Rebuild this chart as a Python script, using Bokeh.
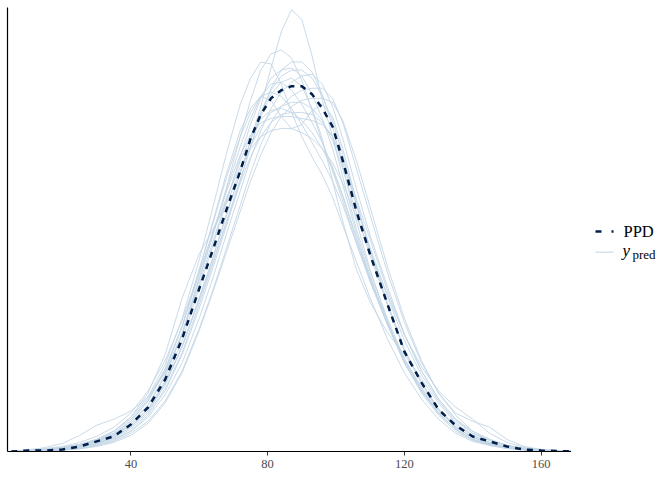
from bokeh.plotting import figure
from bokeh.layouts import row
from bokeh.models import Range1d, FixedTicker
from bokeh.core.properties import value
from bokeh.embed import file_html
from bokeh.resources import INLINE

# density grid (x) and densities (x 1000)
x_grid = [5, 10, 15, 20, 25, 30, 35, 40, 45, 50,
          55, 60, 64, 68, 72, 75, 78, 81, 84, 87,
          90, 93, 96, 99, 102, 106, 110, 115, 120, 125,
          130, 135, 140, 145, 150, 155, 160, 165, 170]

ppd = [0.0, 0.05, 0.05, 0.1, 0.25, 0.5, 0.75, 1.34, 2.18, 3.56,
       5.59, 8.07, 10.0, 12.0, 13.9, 15.5, 16.7, 17.5, 17.9, 18.1,
       18.1, 17.7, 17.0, 16.1, 14.4, 11.9, 9.75, 7.33, 4.95, 3.42,
       2.08, 1.29, 0.74, 0.5, 0.25, 0.1, 0.05, 0.02, 0.0]

ypred_01 = [0, 0.05, 0.05, 0.1, 0.2, 0.4, 0.7, 1.2, 2.0, 3.3, 5.2, 7.6, 9.6, 11.8, 13.8, 15.4, 17.1, 19.0, 20.8, 21.9, 21.4, 19.6, 17.4, 15.6, 13.6, 11.0, 8.9, 6.6, 4.6, 3.1, 1.9, 1.1, 0.6, 0.35, 0.2, 0.1, 0.05, 0.02, 0]
ypred_02 = [0, 0.05, 0.1, 0.15, 0.3, 0.5, 0.8, 1.4, 2.3, 3.7, 5.8, 8.5, 10.7, 13.1, 15.6, 17.4, 18.9, 19.7, 19.9, 19.5, 18.4, 16.9, 15.3, 13.9, 12.4, 10.3, 8.4, 6.3, 4.4, 3.0, 1.9, 1.1, 0.6, 0.35, 0.2, 0.1, 0.05, 0.02, 0]
ypred_03 = [0, 0.05, 0.1, 0.2, 0.35, 0.6, 1.0, 1.7, 2.7, 4.3, 6.6, 9.5, 12.1, 14.8, 17.2, 18.5, 19.3, 19.2, 18.2, 16.8, 15.6, 14.6, 13.7, 12.6, 11.2, 9.4, 7.6, 5.6, 3.9, 2.6, 1.6, 0.9, 0.5, 0.3, 0.15, 0.08, 0.04, 0.02, 0]
ypred_04 = [0, 0.02, 0.05, 0.08, 0.15, 0.3, 0.55, 1.0, 1.7, 2.8, 4.4, 6.6, 8.6, 10.8, 12.9, 14.5, 15.9, 17.0, 17.8, 18.3, 18.6, 18.7, 18.2, 17.1, 15.5, 13.0, 10.7, 8.2, 5.8, 4.0, 2.6, 1.6, 0.9, 0.55, 0.3, 0.15, 0.07, 0.03, 0]
ypred_05 = [0, 0.03, 0.06, 0.1, 0.2, 0.4, 0.7, 1.2, 2.0, 3.3, 5.2, 7.6, 9.6, 11.7, 13.8, 15.4, 16.8, 17.9, 18.6, 18.9, 18.9, 18.5, 17.6, 16.4, 14.7, 12.2, 9.9, 7.3, 5.0, 3.4, 2.1, 1.2, 0.7, 0.4, 0.2, 0.1, 0.05, 0.02, 0]
ypred_06 = [0, 0.05, 0.08, 0.15, 0.3, 0.55, 0.9, 1.5, 2.5, 4.0, 6.2, 9.0, 11.4, 13.8, 15.9, 17.0, 17.6, 17.4, 16.6, 16.0, 16.2, 16.9, 17.2, 16.6, 15.0, 12.4, 10.0, 7.4, 5.1, 3.4, 2.1, 1.2, 0.7, 0.4, 0.2, 0.1, 0.05, 0.02, 0]
ypred_07 = [0, 0.05, 0.1, 0.2, 0.35, 0.6, 1.0, 1.6, 2.6, 4.1, 6.2, 8.8, 10.9, 12.9, 14.7, 15.7, 16.3, 16.5, 16.6, 16.6, 16.5, 16.4, 16.2, 15.6, 14.3, 12.2, 10.1, 7.7, 5.5, 3.8, 2.5, 1.5, 0.9, 0.55, 0.3, 0.15, 0.07, 0.03, 0]
ypred_08 = [0, 0.04, 0.08, 0.15, 0.3, 0.5, 0.85, 1.4, 2.3, 3.8, 5.9, 8.6, 10.8, 13.0, 15.1, 16.5, 17.6, 18.2, 18.3, 17.9, 17.2, 16.3, 15.3, 14.1, 12.7, 10.6, 8.6, 6.4, 4.5, 3.1, 2.0, 1.2, 0.7, 0.4, 0.2, 0.1, 0.05, 0.02, 0]
ypred_09 = [0, 0.05, 0.1, 0.2, 0.35, 0.6, 1.0, 1.7, 2.9, 4.8, 7.6, 9.8, 11.0, 12.3, 13.9, 15.1, 16.1, 16.8, 17.1, 17.3, 17.3, 17.0, 16.4, 15.4, 14.0, 11.8, 9.7, 7.3, 5.0, 3.4, 2.1, 1.2, 0.7, 0.4, 0.2, 0.1, 0.05, 0.02, 0]
ypred_10 = [0, 0.03, 0.06, 0.12, 0.25, 0.45, 0.75, 1.3, 2.1, 3.5, 5.5, 8.1, 10.2, 12.4, 14.6, 16.2, 17.5, 18.5, 18.9, 19.0, 18.6, 17.7, 16.5, 15.0, 13.2, 10.8, 8.7, 6.4, 4.4, 3.0, 1.9, 1.1, 0.6, 0.35, 0.2, 0.1, 0.04, 0.02, 0]
ypred_11 = [0, 0.08, 0.15, 0.25, 0.45, 0.75, 1.2, 1.9, 3.0, 4.5, 6.5, 8.9, 10.8, 12.6, 14.1, 15.0, 15.6, 15.9, 16.0, 16.0, 15.8, 15.5, 15.0, 14.3, 13.3, 11.6, 9.9, 7.8, 5.8, 4.2, 3.0, 2.2, 1.6, 0.9, 0.45, 0.2, 0.1, 0.04, 0]
ypred_12 = [0, 0.02, 0.04, 0.08, 0.15, 0.3, 0.5, 0.9, 1.5, 2.5, 4.0, 6.1, 8.0, 10.1, 12.2, 13.8, 15.2, 16.3, 17.1, 17.6, 17.9, 18.0, 18.0, 17.5, 16.3, 14.0, 11.7, 8.9, 6.4, 4.4, 2.9, 1.8, 1.0, 0.6, 0.3, 0.15, 0.07, 0.03, 0]
ypred_13 = [0, 0.08, 0.2, 0.4, 0.8, 1.3, 1.6, 2.0, 2.7, 3.9, 5.8, 8.3, 10.4, 12.5, 14.4, 15.6, 16.5, 16.9, 17.0, 16.8, 16.4, 15.8, 15.0, 14.0, 12.6, 10.5, 8.5, 6.3, 4.4, 3.0, 1.9, 1.1, 0.6, 0.35, 0.2, 0.1, 0.05, 0.02, 0]
ypred_14 = [0, 0.03, 0.06, 0.1, 0.2, 0.4, 0.65, 1.1, 1.9, 3.1, 4.9, 7.3, 9.3, 11.4, 13.5, 15.1, 16.6, 17.7, 18.3, 18.5, 18.1, 17.0, 15.5, 13.4, 11.4, 9.0, 7.4, 5.9, 4.8, 3.6, 2.4, 1.4, 0.8, 0.45, 0.2, 0.1, 0.05, 0.02, 0]
ypred_15 = [0, 0.04, 0.08, 0.15, 0.28, 0.5, 0.8, 1.3, 2.1, 3.4, 5.2, 7.5, 9.4, 11.4, 13.3, 14.6, 15.6, 16.3, 16.7, 16.8, 16.8, 16.7, 16.3, 15.6, 14.5, 12.5, 10.5, 8.0, 5.8, 4.0, 2.6, 1.6, 1.0, 0.6, 0.3, 0.15, 0.07, 0.03, 0]
ypred_16 = [0, 0.05, 0.1, 0.18, 0.32, 0.55, 0.9, 1.5, 2.5, 4.0, 6.2, 9.0, 11.3, 13.6, 15.6, 16.8, 17.6, 17.8, 17.6, 17.0, 16.2, 15.3, 14.4, 13.4, 12.2, 10.3, 8.5, 6.4, 4.6, 3.2, 2.1, 1.3, 0.8, 0.45, 0.25, 0.12, 0.06, 0.02, 0]
ypred_17 = [0, 0.02, 0.04, 0.07, 0.13, 0.25, 0.45, 0.8, 1.4, 2.4, 3.9, 6.0, 7.9, 9.9, 11.9, 13.4, 14.7, 15.8, 16.6, 17.1, 17.4, 17.5, 17.5, 17.3, 16.4, 14.4, 12.1, 9.2, 6.6, 4.5, 2.9, 1.9, 1.5, 1.2, 0.6, 0.25, 0.1, 0.04, 0]
ypred_18 = [0, 0.03, 0.05, 0.1, 0.2, 0.35, 0.6, 1.0, 1.8, 3.0, 4.8, 7.1, 9.1, 11.2, 13.4, 15.1, 16.7, 18.0, 18.9, 19.3, 19.3, 18.8, 17.7, 16.1, 14.1, 11.4, 9.0, 6.5, 4.4, 2.9, 1.8, 1.0, 0.55, 0.3, 0.15, 0.07, 0.03, 0.01, 0]

x_ticks = [40, 80, 120, 160]
legend_labels = ["PPD", "y", "pred"]

ypred_all = [ypred_01, ypred_02, ypred_03, ypred_04, ypred_05, ypred_06,
             ypred_07, ypred_08, ypred_09, ypred_10, ypred_11, ypred_12,
             ypred_13, ypred_14, ypred_15, ypred_16, ypred_17, ypred_18]

LIGHT = "#c3d6e6"
DARK = "#011f4b"
SERIF = "Liberation Serif"

H = 470
p = figure(width=571, height=H, output_backend="svg", toolbar_location=None,
           x_range=Range1d(3.9, 168.9), y_range=Range1d(0, 22.0),
           min_border_left=7, min_border_right=0, min_border_top=7,
           min_border_bottom=0)
p.outline_line_color = None
p.grid.visible = False
p.background_fill_color = "white"
p.border_fill_color = "white"

p.multi_line([x_grid] * len(ypred_all), ypred_all, line_color=LIGHT,
             line_width=1, line_alpha=0.9)
p.line(x_grid, ppd, line_color=DARK, line_width=2.5, line_dash="6 6")

p.xaxis.ticker = FixedTicker(ticks=x_ticks)
p.xaxis.minor_tick_line_color = None
p.xaxis.major_tick_in = 0
p.xaxis.major_tick_out = 4
p.xaxis.major_tick_line_color = "#333333"
p.xaxis.axis_line_color = "black"
p.xaxis.axis_line_width = 1.2
p.xaxis.major_label_text_font = SERIF
p.xaxis.major_label_text_font_size = "12.5px"
p.xaxis.major_label_text_color = "#4d4d4d"
p.xaxis.major_label_standoff = 4

p.yaxis.ticker = FixedTicker(ticks=[])
p.yaxis.minor_tick_line_color = None
p.yaxis.major_tick_line_color = None
p.yaxis.major_tick_in = 0
p.yaxis.major_tick_out = 0
p.yaxis.major_label_standoff = 0
p.yaxis.axis_line_color = "black"
p.yaxis.axis_line_width = 1.2

# legend panel (coordinates in panel pixels, top-down)
lg = figure(width=93, height=H, output_backend="svg", toolbar_location=None,
            x_range=Range1d(0, 93), y_range=Range1d(H, 0),
            x_axis_type=None, y_axis_type=None, min_border=0)
lg.outline_line_color = None
lg.grid.visible = False
lg.background_fill_color = "white"
lg.border_fill_color = "white"

lg.line([24, 42], [237, 237], line_color=DARK, line_width=2.5, line_dash="6 10")
lg.line([24, 42], [259, 259], line_color=LIGHT, line_width=1)
lg.text([52], [237.5], text=[legend_labels[0]], text_font=value(SERIF),
        text_font_size="16.5px", text_baseline="middle", text_align="left",
        text_color="black")
lg.text([51], [257], text=[legend_labels[1]], text_font=value(SERIF),
        text_font_size="17px", text_font_style="italic",
        text_baseline="middle", text_align="left", text_color="black")
lg.text([61], [261], text=[legend_labels[2]], text_font=value(SERIF),
        text_font_size="13px", text_baseline="middle", text_align="left",
        text_color="black")

layout = row(p, lg)
open("out.html", "w").write(file_html(layout, INLINE))
